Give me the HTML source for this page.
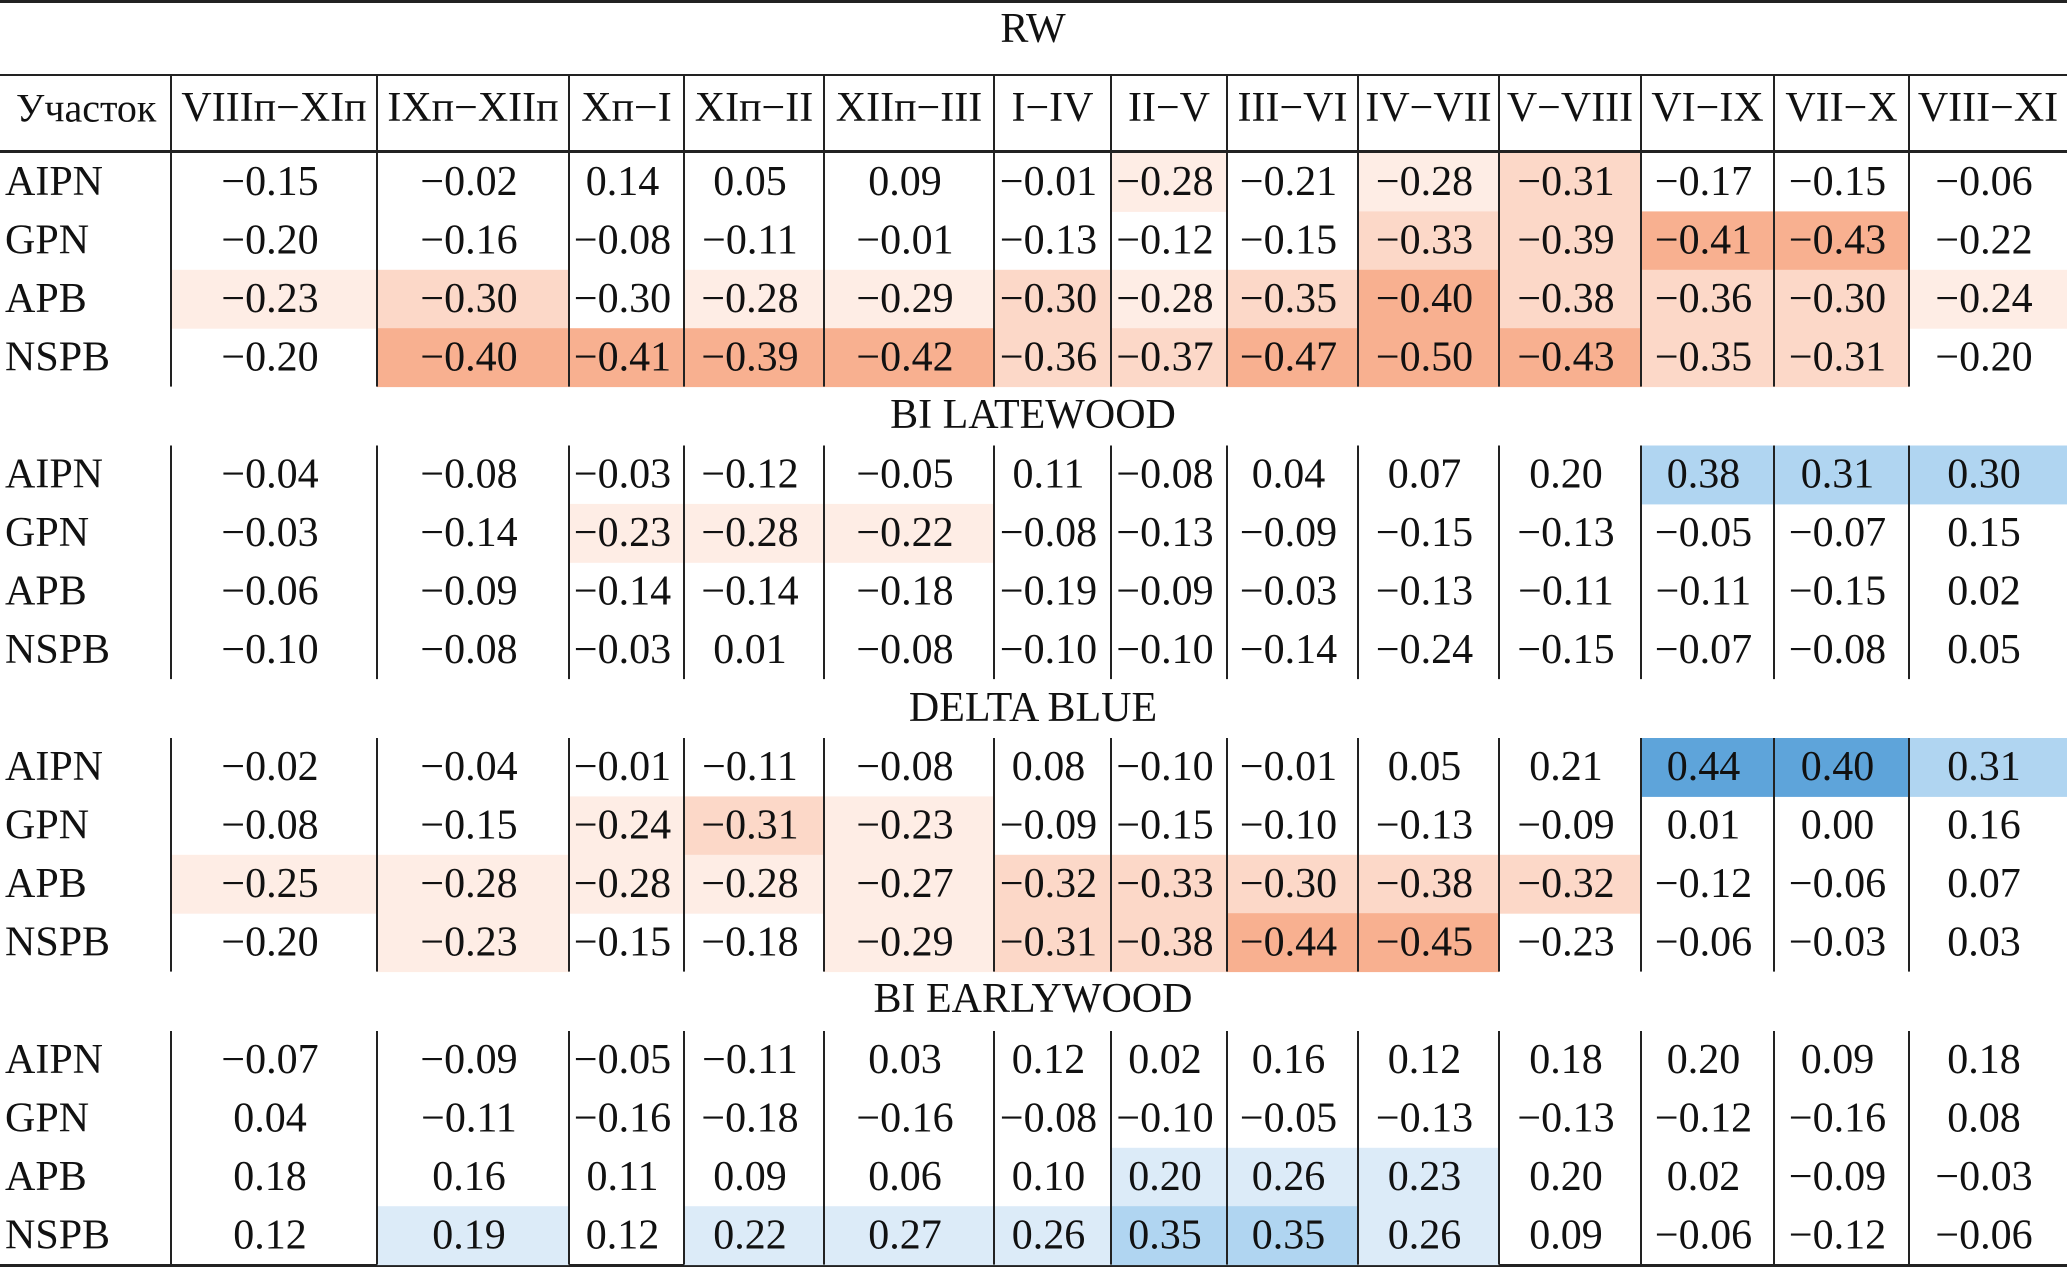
<!DOCTYPE html>
<html><head><meta charset="utf-8"><style>
html,body{margin:0;padding:0;background:#fff;}
svg{display:block;font-family:"Liberation Serif","Noto Serif CJK SC",serif;}
</style></head><body>
<svg id="t" width="2067" height="1269" viewBox="0 0 2067 1269" xmlns="http://www.w3.org/2000/svg"></svg>
<script>
const columns=["VIIIп−XIп","IXп−XIIп","Xп−I","XIп−II","XIIп−III","I−IV","II−V","III−VI","IV−VII","V−VIII","VI−IX","VII−X","VIII−XI"];
const sites=["AIPN","GPN","APB","NSPB"];
const sectionTitles=["RW","BI LATEWOOD","DELTA BLUE","BI EARLYWOOD"];
const rwValues=[
[-0.15,-0.02,0.14,0.05,0.09,-0.01,-0.28,-0.21,-0.28,-0.31,-0.17,-0.15,-0.06],
[-0.20,-0.16,-0.08,-0.11,-0.01,-0.13,-0.12,-0.15,-0.33,-0.39,-0.41,-0.43,-0.22],
[-0.23,-0.30,-0.30,-0.28,-0.29,-0.30,-0.28,-0.35,-0.40,-0.38,-0.36,-0.30,-0.24],
[-0.20,-0.40,-0.41,-0.39,-0.42,-0.36,-0.37,-0.47,-0.50,-0.43,-0.35,-0.31,-0.20]];
const rwShade=[
[0,0,0,0,0,0,-1,0,-1,-2,0,0,0],
[0,0,0,0,0,0,0,0,-2,-2,-3,-3,0],
[-1,-2,0,-1,-1,-2,-1,-2,-3,-2,-2,-2,-1],
[0,-3,-3,-3,-3,-2,-2,-3,-3,-3,-2,-2,0]];
const lateValues=[
[-0.04,-0.08,-0.03,-0.12,-0.05,0.11,-0.08,0.04,0.07,0.20,0.38,0.31,0.30],
[-0.03,-0.14,-0.23,-0.28,-0.22,-0.08,-0.13,-0.09,-0.15,-0.13,-0.05,-0.07,0.15],
[-0.06,-0.09,-0.14,-0.14,-0.18,-0.19,-0.09,-0.03,-0.13,-0.11,-0.11,-0.15,0.02],
[-0.10,-0.08,-0.03,0.01,-0.08,-0.10,-0.10,-0.14,-0.24,-0.15,-0.07,-0.08,0.05]];
const lateShade=[
[0,0,0,0,0,0,0,0,0,0,2,2,2],
[0,0,-1,-1,-1,0,0,0,0,0,0,0,0],
[0,0,0,0,0,0,0,0,0,0,0,0,0],
[0,0,0,0,0,0,0,0,0,0,0,0,0]];
const deltaValues=[
[-0.02,-0.04,-0.01,-0.11,-0.08,0.08,-0.10,-0.01,0.05,0.21,0.44,0.40,0.31],
[-0.08,-0.15,-0.24,-0.31,-0.23,-0.09,-0.15,-0.10,-0.13,-0.09,0.01,0.00,0.16],
[-0.25,-0.28,-0.28,-0.28,-0.27,-0.32,-0.33,-0.30,-0.38,-0.32,-0.12,-0.06,0.07],
[-0.20,-0.23,-0.15,-0.18,-0.29,-0.31,-0.38,-0.44,-0.45,-0.23,-0.06,-0.03,0.03]];
const deltaShade=[
[0,0,0,0,0,0,0,0,0,0,3,3,2],
[0,0,-1,-2,-1,0,0,0,0,0,0,0,0],
[-1,-1,-1,-1,-1,-2,-2,-2,-2,-2,0,0,0],
[0,-1,0,0,-1,-2,-2,-3,-3,0,0,0,0]];
const earlyValues=[
[-0.07,-0.09,-0.05,-0.11,0.03,0.12,0.02,0.16,0.12,0.18,0.20,0.09,0.18],
[0.04,-0.11,-0.16,-0.18,-0.16,-0.08,-0.10,-0.05,-0.13,-0.13,-0.12,-0.16,0.08],
[0.18,0.16,0.11,0.09,0.06,0.10,0.20,0.26,0.23,0.20,0.02,-0.09,-0.03],
[0.12,0.19,0.12,0.22,0.27,0.26,0.35,0.35,0.26,0.09,-0.06,-0.12,-0.06]];
const earlyShade=[
[0,0,0,0,0,0,0,0,0,0,0,0,0],
[0,0,0,0,0,0,0,0,0,0,0,0,0],
[0,0,0,0,0,0,1,1,1,0,0,0,0],
[0,1,0,1,1,1,2,2,1,0,0,0,0]];
const sectionValues=[rwValues,lateValues,deltaValues,earlyValues];
const sectionShades=[rwShade,lateShade,deltaShade,earlyShade];

const NS="http://www.w3.org/2000/svg";
const svg=document.getElementById('t');
const colX=[0,171,377,569,684,824,994,1111,1227,1358,1499,1641,1774,1909,2067];
const rowH=58.4;
const secTop=[153,445.5,738,1031];
const titleY=[29,415,708,999];
const colors={"-3":"#f8b090","-2":"#fcd8c8","-1":"#feede5","1":"#dcebf8","2":"#b0d5f1","3":"#5ea4da"};
function el(tag,attrs,parent){const e=document.createElementNS(NS,tag);for(const k in attrs)e.setAttribute(k,attrs[k]);(parent||svg).appendChild(e);return e;}
function fmt(v){const s=Math.abs(v).toFixed(2);return (v<0?"\u2212":"")+s;}
function txt(x,y,s,anchor,fs){const t=el('text',{x:x,y:y,'font-size':fs||42,'text-anchor':anchor||'middle','dominant-baseline':'central',fill:'#111'});t.textContent=s;return t;}

let l;
l=el('rect',{x:0,y:0,width:2067,height:3,fill:'#222'});

l=el('rect',{x:0,y:74,width:2067,height:2,fill:'#222'});

l=el('rect',{x:0,y:150,width:2067,height:3,fill:'#222'});

l=el('rect',{x:0,y:1264,width:2067,height:3,fill:'#222'});


let h=txt(16,108,"Участок",'start',40);

columns.forEach((c,i)=>{
  const t=txt((colX[i+1]+colX[i+2])/2,108,c,'middle',42);
  const w=colX[i+2]-colX[i+1]-6;
  try{ if(t.getComputedTextLength()>w){t.setAttribute('textLength',w);t.setAttribute('lengthAdjust','spacingAndGlyphs');} }catch(e){}
  
  
});
for(let i=1;i<14;i++){
  const v=el('rect',{x:colX[i]-1,y:76,width:2,height:74,fill:'#222'});
  
  
}

sectionTitles.forEach((title,s)=>{
  const tt=txt(1033,titleY[s],title);
  
  
  const vals=sectionValues[s],sh=sectionShades[s];
  sites.forEach((site,r)=>{
    const y0=secTop[s]+r*rowH;
    vals[r].forEach((v,c)=>{
      const lev=sh[r][c];
      if(lev!==0){
        const rc=el('rect',{x:colX[c+1],y:y0,width:colX[c+2]-colX[c+1],height:rowH+0.5,fill:colors[String(lev)]});
        
        
      }
    });
  });
  sites.forEach((site,r)=>{
    const yc=secTop[s]+r*rowH+rowH/2;
    const lb=txt(5,yc,site,'start');
    
    
    vals[r].forEach((v,c)=>{
      const t=txt((colX[c+1]+colX[c+2])/2-4,yc,fmt(v));
      
      
    });
  });
  for(let i=1;i<14;i++){
    const v=el('rect',{x:colX[i]-1,y:secTop[s],width:2,height:rowH*4,fill:'#222'});
    
    
  }
});
</script>
</body></html>
